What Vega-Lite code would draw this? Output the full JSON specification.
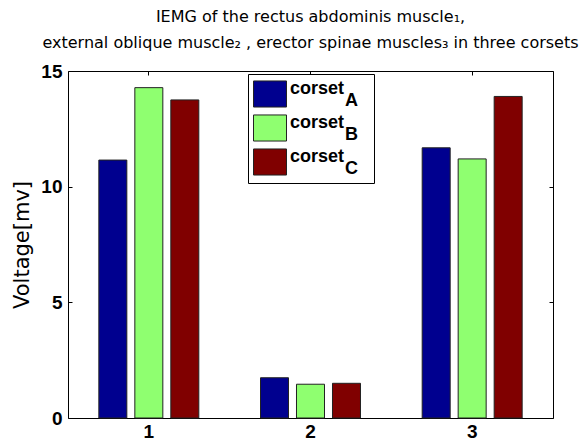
{
  "$schema": "https://vega.github.io/schema/vega-lite/v6.json",
  "width": 485,
  "height": 347,
  "autosize": {"type": "none"},
  "padding": {"left": 68, "top": 71, "right": 29, "bottom": 23},
  "background": "white",
  "title": {
    "text": ["IEMG of the rectus abdominis muscle₁,", "external oblique muscle₂ , erector spinae muscles₃ in three corsets"],
    "font": "DejaVu Sans",
    "fontSize": 16,
    "fontWeight": "normal",
    "color": "black",
    "lineHeight": 26,
    "anchor": "middle",
    "offset": 11
  },
  "data": {
    "values": [
      {"group": "1", "corset": "A", "value": 11.15},
      {"group": "1", "corset": "B", "value": 14.28},
      {"group": "1", "corset": "C", "value": 13.75},
      {"group": "2", "corset": "A", "value": 1.74},
      {"group": "2", "corset": "B", "value": 1.46},
      {"group": "2", "corset": "C", "value": 1.50},
      {"group": "3", "corset": "A", "value": 11.68},
      {"group": "3", "corset": "B", "value": 11.20},
      {"group": "3", "corset": "C", "value": 13.90}
    ]
  },
  "layer": [
    {
      "mark": {"type": "bar", "stroke": "#222222", "strokeWidth": 1},
      "encoding": {
        "x": {
          "field": "group", "type": "nominal",
          "scale": {"paddingInner": 0, "paddingOuter": 0},
          "axis": {
            "orient": "bottom", "title": null, "labelAngle": 0,
            "labelFont": "Liberation Sans", "labelFontWeight": "bold", "labelFontSize": 19,
            "labelColor": "black", "labelPadding": 8,
            "tickSize": -4, "tickColor": "black", "domain": false
          }
        },
        "xOffset": {
          "field": "corset", "type": "nominal",
          "scale": {"paddingInner": 0.222, "paddingOuter": 0.857}
        },
        "y": {
          "field": "value", "type": "quantitative",
          "scale": {"domain": [0, 15], "nice": false},
          "axis": {
            "orient": "left", "title": "Voltage[mv]", "values": [0, 5, 10, 15],
            "grid": false, "domain": false,
            "labelFont": "Liberation Sans", "labelFontWeight": "bold", "labelFontSize": 19,
            "labelColor": "black", "labelPadding": 10,
            "tickSize": -4, "tickColor": "black",
            "titleFont": "DejaVu Sans", "titleFontSize": 21, "titleFontWeight": "normal",
            "titleColor": "black", "titlePadding": 8
          }
        },
        "color": {
          "field": "corset", "type": "nominal",
          "scale": {"domain": ["A", "B", "C"], "range": ["#00008F", "#8FFF70", "#800000"]},
          "legend": {
            "orient": "none", "legendX": 180, "legendY": 3,
            "title": null, "direction": "vertical",
            "strokeColor": "black", "fillColor": "white", "padding": 5,
            "symbolType": "M-1,-0.79L1,-0.79L1,0.79L-1,0.79Z",
            "symbolSize": 1089, "symbolStrokeColor": "#222222", "symbolStrokeWidth": 1,
            "symbolOpacity": 1,
            "labelExpr": "['corset', '\u200c\u00a0\u00a0\u00a0\u00a0\u00a0\u00a0\u00a0\u00a0\u00a0\u00a0\u00a0' + datum.label + '\u00a0\u00a0\u200c']",
            "labelFont": "Liberation Sans", "labelFontWeight": "bold", "labelFontSize": 18,
            "labelColor": "black", "labelOffset": 3, "labelBaseline": "alphabetic",
            "clipHeight": 30,
            "rowPadding": 3
          }
        }
      }
    },
    {
      "mark": {"type": "bar", "opacity": 0},
      "encoding": {
        "x": {
          "field": "group", "type": "nominal",
          "axis": {"orient": "top", "title": null, "labels": false, "tickSize": -4, "tickColor": "black", "domain": false}
        },
        "xOffset": {"field": "corset", "type": "nominal"},
        "y": {
          "field": "value", "type": "quantitative",
          "axis": {"orient": "right", "title": null, "labels": false, "values": [0, 5, 10, 15], "grid": false, "tickSize": -4, "tickColor": "black", "domain": false}
        }
      }
    }
  ],
  "resolve": {"axis": {"x": "independent", "y": "independent"}},
  "config": {
    "view": {"stroke": "black", "strokeWidth": 1},
    "style": {"guide-label": {"lineHeight": 12}}
  }
}
